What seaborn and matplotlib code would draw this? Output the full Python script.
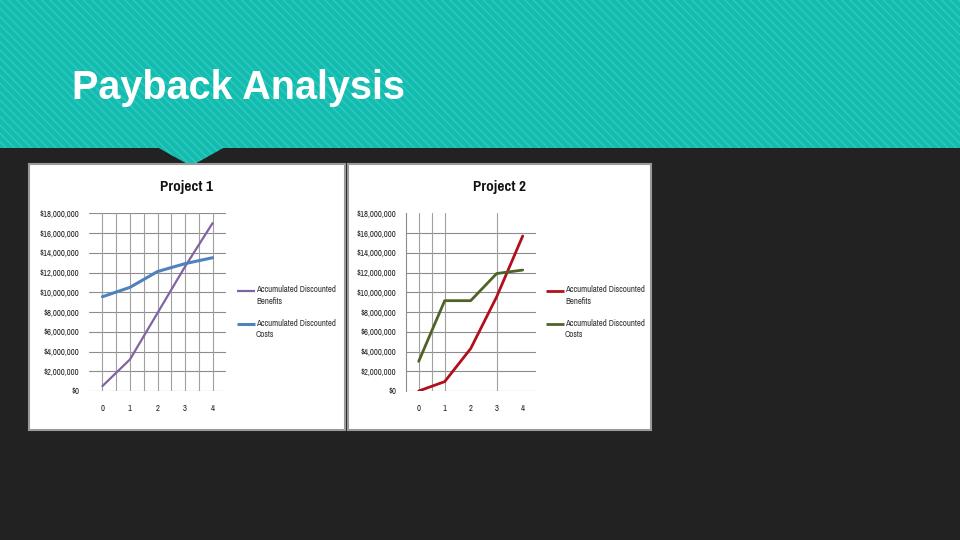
import matplotlib
matplotlib.use("Agg")
import matplotlib.pyplot as plt
from matplotlib import font_manager
from matplotlib.patches import Rectangle, Polygon
from matplotlib.ticker import FuncFormatter
import seaborn as sns

# data (millions of dollars)
years = [0, 1, 2, 3, 4]
p1_benefits = [0.5, 3.2, 7.9, 12.6, 17.0]
p1_costs = [9.55, 10.5, 12.1, 12.9, 13.5]
p2_benefits = [0.0, 0.95, 4.3, 9.55, 15.7]
p2_costs = [3.0, 9.15, 9.15, 11.9, 12.25]
y_ticks = [0, 2, 4, 6, 8, 10, 12, 14, 16, 18]
legend_labels = ["Accumulated Discounted\nBenefits", "Accumulated Discounted\nCosts"]

sns.set_theme(style="white")
plt.rcParams["font.family"] = ["DejaVu Sans"]
plt.rcParams["hatch.linewidth"] = 1.1

# look for a narrow face (closer to Calibri in the screenshot)
narrow_reg, narrow_bold = None, None
for f in font_manager.fontManager.ttflist:
    fn = f.fname.lower()
    if "narrow" in fn and "italic" not in fn:
        if "bold" in fn:
            narrow_bold = f.fname
        else:
            narrow_reg = f.fname
tick_fp = font_manager.FontProperties(fname=narrow_reg) if narrow_reg else font_manager.FontProperties(family="DejaVu Sans", stretch="condensed")
title_fp = font_manager.FontProperties(fname=narrow_bold) if narrow_bold else font_manager.FontProperties(family="DejaVu Sans", weight="bold")

fig = plt.figure(figsize=(9.6, 5.4), dpi=100)
fig.patch.set_facecolor("#222222")

# slide background: striped header band, notch and two white chart panels
bg = fig.add_axes([0, 0, 1, 1])
bg.set_xlim(0, 960)
bg.set_ylim(540, 0)
bg.axis("off")
bg.add_patch(Rectangle((0, 0), 960, 148, facecolor="#12bdb0", edgecolor="#32c7bc", hatch="\\\\\\\\", linewidth=0))
bg.add_patch(Polygon([(157, 147), (225, 147), (191, 166)], closed=True, facecolor="#12bdb0", edgecolor="#32c7bc", hatch="\\\\\\\\", linewidth=0))
bg.add_patch(Rectangle((29, 164), 316, 266, facecolor="white", edgecolor="#9a9a9a", linewidth=1.5))
bg.add_patch(Rectangle((348, 164), 303, 266, facecolor="white", edgecolor="#9a9a9a", linewidth=1.5))
bg.text(72, 99, "Payback Analysis", color="white", fontsize=28.5, fontweight="bold",
        family=["Liberation Sans", "DejaVu Sans"], va="baseline", ha="left")

fmt = FuncFormatter(lambda v, pos: "$0" if v == 0 else f"${v * 1e6:,.0f}")


def draw_chart(rect, title, title_x, benefits, costs, colors, widths, vgrid, top_line, spine, leg_x):
    ax = fig.add_axes(rect)
    sns.lineplot(x=years, y=benefits, ax=ax, color=colors[0], linewidth=widths[0], legend=False)
    sns.lineplot(x=years, y=costs, ax=ax, color=colors[1], linewidth=widths[1], legend=False)
    ax.set_xlim(-0.5, 4.5)
    ax.set_ylim(0, 18)
    ax.set_yticks(y_ticks)
    ax.yaxis.set_major_formatter(fmt)
    ax.set_xticks(years)
    ax.tick_params(axis="both", length=0, colors="#222222")
    ax.tick_params(axis="y", pad=6.5)
    ax.tick_params(axis="x", pad=9.5)
    for lab in ax.get_xticklabels() + ax.get_yticklabels():
        lab.set_fontproperties(tick_fp)
        lab.set_fontsize(6.8)
    for s in ax.spines.values():
        s.set_visible(False)
    if spine:
        ax.spines["left"].set_visible(True)
        ax.spines["left"].set_color("#8c8c8c")
        ax.spines["left"].set_linewidth(0.8)
    for v in y_ticks:
        if v == 18 and not top_line:
            continue
        ax.axhline(v, color="#8c8c8c", linewidth=0.8, zorder=0)
    for v in vgrid:
        ax.plot([v, v], [0, 18], color="#a0a0a0", linewidth=0.8, zorder=0)
    ax.set_facecolor("none")
    # legend drawn beside the plot, handle level with the first text line
    for i, (lab, col, lw) in enumerate(zip(legend_labels, colors, widths)):
        yy = 291 + 33 * i
        bg.plot([leg_x, leg_x + 18], [yy, yy], color=col, linewidth=lw, solid_capstyle="butt")
        bg.text(leg_x + 19, yy - 5.5, lab, fontproperties=tick_fp, fontsize=6.9, color="#333333",
                va="top", ha="left", linespacing=1.35)
    fig.text(title_x, 1 - 187 / 540, title, fontproperties=title_fp, fontsize=11.9, color="#111111",
             ha="center", va="center")
    return ax


draw_chart([88.7 / 960, 149 / 540, 137.6 / 960, 177.7 / 540], "Project 1", 187 / 960,
           p1_benefits, p1_costs, ["#8064a2", "#4f81bd"], [1.6, 2.2],
           [0, 0.5, 1, 1.5, 2, 2.5, 3, 3.5, 4], True, False, 237)
draw_chart([405.7 / 960, 149 / 540, 130 / 960, 177.7 / 540], "Project 2", 499.5 / 960,
           p2_benefits, p2_costs, ["#b0101c", "#4f6228"], [2.0, 2.0],
           [0, 0.5, 1, 3], False, True, 546)

fig.savefig("out.png", dpi=100, facecolor=fig.get_facecolor())
